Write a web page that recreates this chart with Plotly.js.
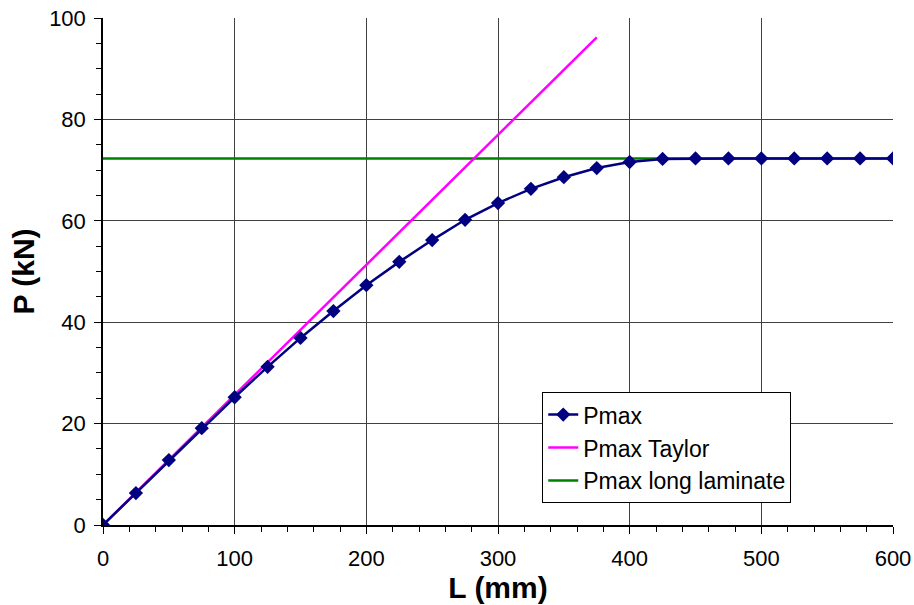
<!DOCTYPE html>
<html>
<head>
<meta charset="utf-8">
<script src="https://cdn.plot.ly/plotly-3.0.1.min.js"></script>
<style>body{margin:0;padding:0;background:#fff}#chart{width:914px;height:605px}</style>
</head>
<body>
<div id="chart"></div>
<script>
const L = [0,25,50,75,100,125,150,175,200,225,250,275,300,325,350,375,400,425,450,475,500,525,550,575,600];
const Pmax = [0,6.3,12.8,19.1,25.2,31.2,36.9,42.2,47.3,51.9,56.2,60.2,63.5,66.3,68.6,70.4,71.6,72.2,72.3,72.3,72.3,72.3,72.3,72.3,72.3];
const taylorL = [0,375];
const taylorP = [0,96.2];
const longL = [0,600];
const longP = [72.3,72.3];

const traces = [
  {x:L, y:Pmax, name:'Pmax', mode:'lines+markers', type:'scatter',
   line:{color:'#000080', width:2.5}, marker:{symbol:'diamond', size:11, color:'#000080'}},
  {x:taylorL, y:taylorP, name:'Pmax Taylor', mode:'lines', type:'scatter',
   line:{color:'#FF00FF', width:2.5}},
  {x:longL, y:longP, name:'Pmax long laminate', mode:'lines', type:'scatter',
   line:{color:'#008000', width:2.5}}
];
const ordered = [traces[2], traces[1], traces[0]];

const layout = {
  width:914, height:605,
  margin:{l:103, r:21, t:18, b:80},
  paper_bgcolor:'#fff', plot_bgcolor:'#fff',
  font:{family:'Liberation Sans, Arial, sans-serif', color:'#000', size:22},
  showlegend:true,
  legend:{x:0.556, y:0.262, xanchor:'left', yanchor:'top', traceorder:'reversed',
    bordercolor:'#000', borderwidth:1, bgcolor:'#fff', font:{size:23}, tracegroupgap:0},
  xaxis:{range:[0,600], dtick:100, tick0:0, showgrid:true, gridcolor:'#404040', gridwidth:1,
    showline:true, linecolor:'#000', linewidth:1.5, ticks:'outside', ticklen:7, tickcolor:'#000',
    zeroline:false, tickfont:{size:22}, ticklabelstandoff:6,
    minor:{dtick:20, ticks:'outside', ticklen:5, tickcolor:'#000', showgrid:false},
    title:{text:'<b>L (mm)</b>', font:{size:30}, standoff:6}},
  yaxis:{range:[0,100], dtick:20, tick0:0, showgrid:true, gridcolor:'#404040', gridwidth:1,
    showline:true, linecolor:'#000', linewidth:1.5, ticks:'outside', ticklen:7, tickcolor:'#000',
    zeroline:false, tickfont:{size:22}, ticklabelstandoff:4,
    minor:{dtick:5, ticks:'outside', ticklen:5, tickcolor:'#000', showgrid:false},
    title:{text:'<b>P (kN)</b>', font:{size:30}, standoff:6}}
};
Plotly.newPlot('chart', ordered, layout, {displayModeBar:false});
</script>
</body>
</html>
